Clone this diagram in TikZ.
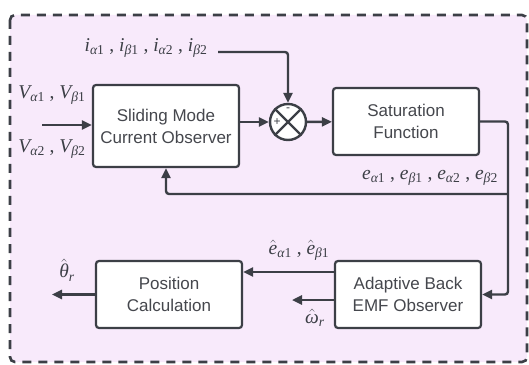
\documentclass[tikz,border=0pt]{standalone}
\usepackage{amsmath}
\usepackage{fontspec}
\setsansfont{Liberation Sans}
\newfontfamily\lserif{Liberation Serif}
\newcommand{\tvar}[1]{\text{\lserif\itshape #1}}
\newcommand{\tnum}[1]{\text{\lserif #1}}
\usetikzlibrary{arrows.meta, positioning}

\definecolor{linegray}{HTML}{3C3F46}
\definecolor{bgpink}{HTML}{F8EAFB}
\definecolor{textgray}{HTML}{45474D}

\begin{document}
\begin{tikzpicture}[
  x=1pt, y=1pt,
  block/.style={rectangle, draw=linegray, line width=2.2pt, rounded corners=3pt, fill=white, minimum width=146pt, align=center, font=\fontsize{17}{22}\selectfont\sffamily, text=textgray, inner sep=0pt},
  rel/.style={draw=linegray, line width=2.4pt, -{Triangle[length=10pt, width=9pt]}, rounded corners=3pt},
  lbl/.style={font=\fontsize{19.5}{22}\selectfont, text=linegray, inner sep=0pt},
]
  \useasboundingbox (0,0) rectangle (529,364);
  \draw[draw=linegray, line width=2.6pt, dash pattern=on 9pt off 7pt, rounded corners=5pt, fill=bgpink] (10,349) rectangle (527,2);

  \node[block, minimum height=82pt] (smo) at (166,238) {Sliding Mode\\Current Observer};
  \node[circle, draw=linegray, line width=2.4pt, fill=white, minimum size=36pt, inner sep=0pt] (sum) at (288,242) {};
  \node[block, minimum height=67pt] (sat) at (406,242.5) {Saturation\\Function};
  \node[block, minimum height=67pt] (abe) at (408,69.5) {Adaptive Back\\EMF Observer};
  \node[block, minimum height=67pt] (pos) at (169,69.5) {Position\\Calculation};

  % summing junction
  \draw[linegray, line width=2.4pt] (sum.north west) -- (sum.south east);
  \draw[linegray, line width=2.4pt] (sum.north east) -- (sum.south west);
  \node[font=\fontsize{12}{12}\selectfont\sffamily, text=linegray, inner sep=0pt] (plus) at ([xshift=-11pt]sum.center) {+};
  \node[font=\fontsize{12}{12}\selectfont\sffamily, text=linegray, inner sep=0pt] (minus) at ([yshift=12pt]sum.center) {-};

  \coordinate (vin) at (42,239);
  \coordinate (isrc) at (218,312);
  \coordinate (split) at (508,170);
  \coordinate (thout) at (52,69.5);
  \coordinate (wout) at (292,64);

  \draw[rel] (vin) -- (vin -| smo.west);
  \draw[rel] (smo.east |- sum) -- (sum.west);
  \draw[rel] (isrc) -| (sum.north);
  \draw[rel] (sum) -- (sat);
  \draw[rel] (sat.east) -| (split) |- (abe.east);
  \draw[rel] (split) -| (smo.south);
  \draw[rel] ([yshift=22.5pt]abe.west) -- ([yshift=22.5pt]abe.west -| pos.east);
  \draw[rel] ([yshift=-5.5pt]abe.west) -- (wout);
  \draw[rel] (pos.west) -- (thout);

  \node[lbl] (ilbl) at (146,316) {$\tvar{i}_{\tvar{α}\tnum{1}}\tnum{ , }\tvar{i}_{\tvar{β}\tnum{1}}\tnum{ , }\tvar{i}_{\tvar{α}\tnum{2}}\tnum{ , }\tvar{i}_{\tvar{β}\tnum{2}}$};
  \node[lbl] (vtop) at (52,269) {$\tvar{V}_{\tvar{α}\tnum{1}}\tnum{ , }\tvar{V}_{\tvar{β}\tnum{1}}$};
  \node[lbl] (vbot) at (52,215) {$\tvar{V}_{\tvar{α}\tnum{2}}\tnum{ , }\tvar{V}_{\tvar{β}\tnum{2}}$};
  \node[lbl] (elbl) at (430,186) {$\tvar{e}_{\tvar{α}\tnum{1}}\tnum{ , }\tvar{e}_{\tvar{β}\tnum{1}}\tnum{ , }\tvar{e}_{\tvar{α}\tnum{2}}\tnum{ , }\tvar{e}_{\tvar{β}\tnum{2}}$};
  \node[lbl] (ehat) at (299,114) {$\hat{\tvar{e}}_{\tvar{α}\tnum{1}}\tnum{ , }\hat{\tvar{e}}_{\tvar{β}\tnum{1}}$};
  \node[lbl] (what) at (315,46) {$\hat{\tvar{ω}}_{\tvar{r}}$};
  \node[lbl] (that) at (67,94) {$\hat{\tvar{θ}}_{\tvar{r}}$};
\end{tikzpicture}
\end{document}
